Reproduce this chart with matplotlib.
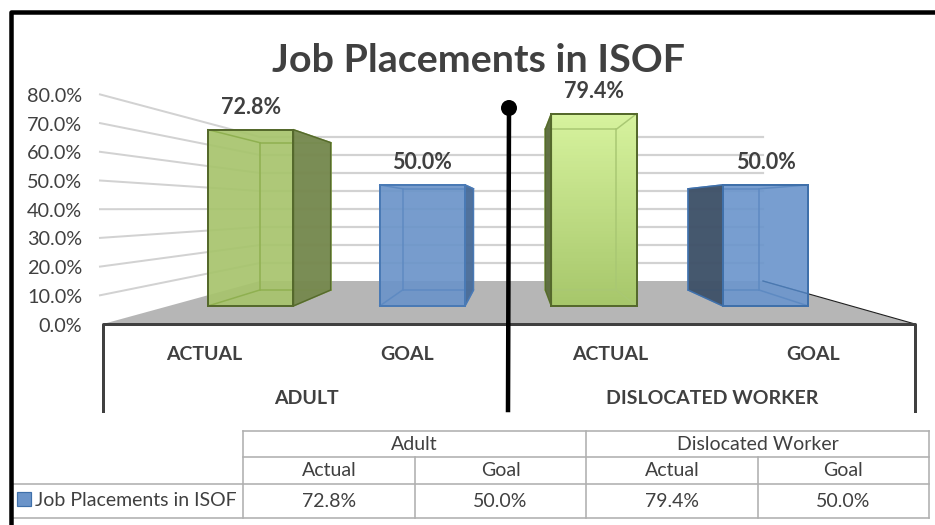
import numpy as np
import matplotlib
matplotlib.use('Agg')
import matplotlib.pyplot as plt
from matplotlib.colors import LinearSegmentedColormap
from matplotlib.patches import Polygon, Rectangle, Circle

plt.rcParams['font.family'] = ['Lato', 'DejaVu Sans']

title = 'Job Placements in ISOF'
series_name = 'Job Placements in ISOF'
groups = ['Adult', 'Dislocated Worker']
categories = ['Actual', 'Goal', 'Actual', 'Goal']
values = [72.8, 50.0, 79.4, 50.0]
ticks = [0, 10, 20, 30, 40, 50, 60, 70, 80]

TEXT = '#404040'
GRID = '#d2d2d2'
PX = 0.72  # one pixel in points at dpi 100

# front, side, inner line, edge, gradient top
bar_styles = [
    ('#a7c46c', '#76894f', '#8fb050', '#55692c', None),
    ('#6b94c9', '#4a6d9a', '#5e8ac2', '#4a7ab5', None),
    ('#a7c76b', '#5c6c3d', '#a9c873', '#55692c', '#d7f39e'),
    ('#6c96cc', '#3f5269', '#5e8ac2', '#3f70aa', None),
]


def project(cat, value, depth):
    """cat 0-1 across the plot, value in %, depth 0 (front) to 1 (back), gives pixels"""
    left = 103 + 157 * depth
    right = 915 - 152 * depth
    x = left + (right - left) * cat
    y = 324 - 43 * depth - value * (2.87 - 1.07 * depth)
    return x, y


def draw_bar(ax, i, value, style):
    front, side, inner, edge, grad_top = style
    c0 = 0.12 + 0.2515 * i - 0.0625
    c1 = 0.12 + 0.2515 * i + 0.0625
    d0, d1 = 0.42, 0.79
    fl0, fl1 = project(c0, 0, d0), project(c1, 0, d0)
    ft0, ft1 = project(c0, value, d0), project(c1, value, d0)
    bl0, bl1 = project(c0, 0, d1), project(c1, 0, d1)
    bt0, bt1 = project(c0, value, d1), project(c1, value, d1)

    face = Polygon([fl0, fl1, ft1, ft0], fc=front, ec='none', alpha=0.92, zorder=5)
    ax.add_patch(face)
    if grad_top:
        cmap = LinearSegmentedColormap.from_list('bar', [grad_top, front])
        im = ax.imshow(np.linspace(0, 1, 64).reshape(-1, 1), cmap=cmap, aspect='auto',
                       extent=(ft0[0], ft1[0], fl0[1], ft0[1]), zorder=5)
        im.set_clip_path(face)

    # inner wireframe
    for a, b in [(bl0, bl1), (bt0, bt1), (bl0, bt0), (bl1, bt1),
                 (fl0, bl0), (fl1, bl1), (ft0, bt0), (ft1, bt1)]:
        ax.plot([a[0], b[0]], [a[1], b[1]], color=inner, lw=1.5 * PX, zorder=6)

    # side face that can be seen from this position
    if bl1[0] > fl1[0]:
        ax.add_patch(Polygon([fl1, bl1, bt1, ft1], fc=side, ec=edge, lw=1.5 * PX, alpha=0.97, zorder=6.5))
    if bl0[0] < fl0[0]:
        ax.add_patch(Polygon([fl0, bl0, bt0, ft0], fc=side, ec=edge, lw=1.5 * PX, alpha=0.97, zorder=6.5))

    ax.add_patch(Polygon([fl0, fl1, ft1, ft0], fc='none', ec=edge, lw=2 * PX, zorder=7))
    ax.text((ft0[0] + ft1[0]) / 2, ft0[1] - 22.5, f'{value:.1f}%', ha='center', va='center',
            fontsize=15.5, fontweight='bold', color=TEXT, zorder=9)
    return face


fig = plt.figure(figsize=(9.35, 5.25), dpi=100)
ax = fig.add_axes([0, 0, 1, 1])
ax.set_xlim(0, 935)
ax.set_ylim(525, 0)
ax.axis('off')

# frame of the picture
ax.plot([11, 11, 935], [525, 11.5, 11.5], color='black', lw=4.5 * PX, solid_joinstyle='round', zorder=10)

# gridlines on the two walls
for t in ticks:
    x0, y0 = project(0, t, 0)
    x1, y1 = project(0, t, 1)
    x2, y2 = project(1, t, 1)
    if t > 0:
        ax.plot([x0 - 3, x1], [y0, y1], color=GRID, lw=2 * PX, zorder=1)
        ax.plot([x1, x2], [y1, y1], color=GRID, lw=2.2 * PX, zorder=1)
    ax.text(82, y0 + 2, f'{t:.1f}%', ha='right', va='center', fontsize=14.3, color=TEXT)

# floor
floor = [project(0, 0, 0), project(1, 0, 0), project(1, 0, 1), project(0, 0, 1)]
ax.add_patch(Polygon(floor, fc='#b6b6b6', ec='none', zorder=2))
ax.plot([floor[2][0], floor[1][0]], [floor[2][1], floor[1][1]], color='#202020', lw=1.1 * PX, zorder=3)

faces = [draw_bar(ax, i, value, bar_styles[i]) for i, value in enumerate(values)]

# the floor edge shows faintly through the last bar
edge_line, = ax.plot([floor[2][0], floor[1][0]], [floor[2][1], floor[1][1]], color='#4a78b0', lw=1.3 * PX, zorder=6)
edge_line.set_clip_path(faces[3])

# category axis
ax.plot([103, 103, 915, 915], [411, 324, 324, 411], color=TEXT, lw=3 * PX, zorder=8)
for i, cat in enumerate(categories):
    ax.text(project((i + 0.5) / 4, 0, 0)[0] - 0.5, 354, cat.upper(), ha='center', va='center',
            fontsize=14, fontweight='bold', color=TEXT)
for j, group in enumerate(groups):
    ax.text(project((2 * j + 1) / 4, 0, 0)[0], 398, group.upper(), ha='center', va='center',
            fontsize=14, fontweight='bold', color=TEXT)

# hand drawn divider
ax.plot([509, 508], [108, 410], color='black', lw=4.5 * PX, zorder=9)
ax.add_patch(Circle((509, 108), 8, fc='black', ec='none', zorder=9))

ax.text(479, 60.5, title, ha='center', va='center', fontsize=28.4, fontweight='bold', color=TEXT)

# data table
col_x = [243, 415, 586, 758, 929]
row_y = [431, 457, 484, 518]
tc = '#b0b0b0'
ax.plot([243, 929], [row_y[0], row_y[0]], color=tc, lw=1.6 * PX)
ax.plot([243, 929], [row_y[1], row_y[1]], color=tc, lw=1.6 * PX)
ax.plot([13, 929], [row_y[2], row_y[2]], color=tc, lw=1.6 * PX)
ax.plot([13, 929], [row_y[3], row_y[3]], color=tc, lw=1.6 * PX)
for k, x in enumerate(col_x):
    top = row_y[0] if k in (0, 2, 4) else row_y[1]
    ax.plot([x, x], [top, row_y[3]], color=tc, lw=1.6 * PX)
for j, group in enumerate(groups):
    ax.text((col_x[2 * j] + col_x[2 * j + 2]) / 2, (row_y[0] + row_y[1]) / 2 + 0.5, group,
            ha='center', va='center', fontsize=14, color=TEXT)
for i, cat in enumerate(categories):
    cx = (col_x[i] + col_x[i + 1]) / 2
    ax.text(cx, (row_y[1] + row_y[2]) / 2 + 0.5, cat, ha='center', va='center', fontsize=14, color=TEXT)
    ax.text(cx, (row_y[2] + row_y[3]) / 2 + 0.5, f'{values[i]:.1f}%', ha='center', va='center', fontsize=14, color=TEXT)
ax.add_patch(Rectangle((17, 492), 14, 14, fc='#6b94c9', ec='#3f70aa', lw=1.2 * PX))
ax.text(35, 500, series_name, ha='left', va='center', fontsize=14, color=TEXT)

fig.savefig('out.png', dpi=100)
